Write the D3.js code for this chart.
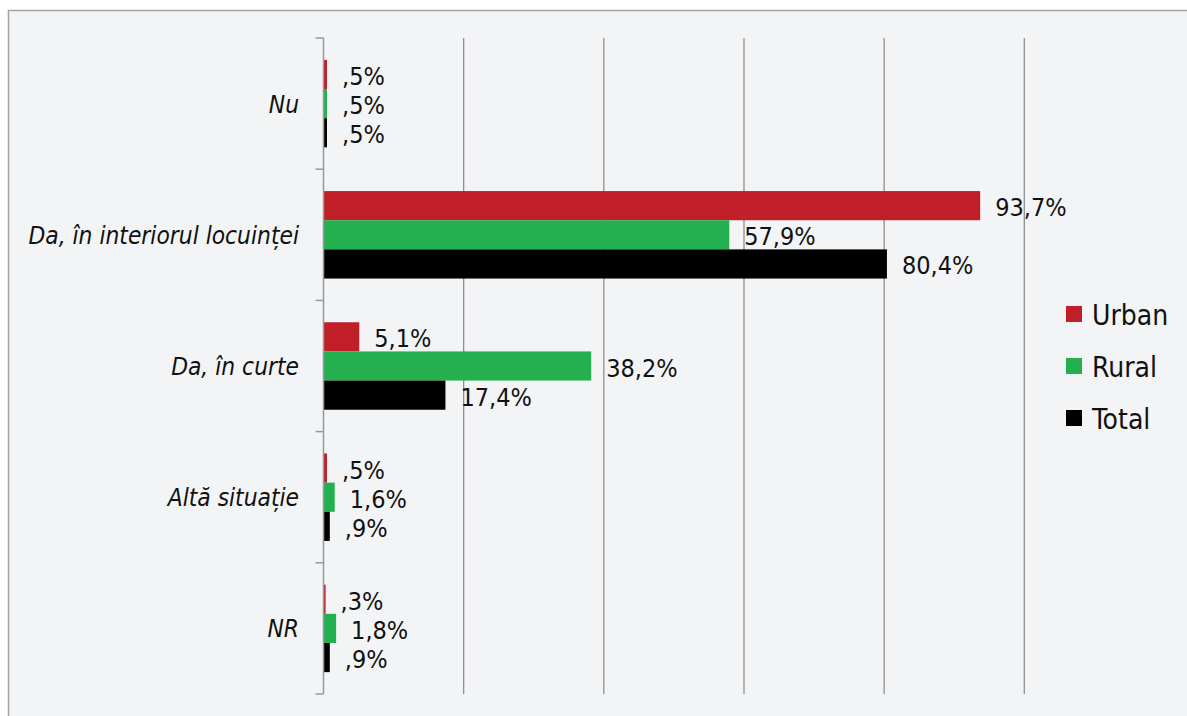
<!DOCTYPE html>
<html>
<head>
<meta charset="utf-8">
<script src="https://cdn.jsdelivr.net/npm/d3@7"></script>
<style>
  html, body { margin: 0; padding: 0; background: #ffffff; }
  svg { display: block; }
</style>
</head>
<body>
<svg id="chart" width="1187" height="716"></svg>
<script>
const categories = ["Nu", "Da, în interiorul locuinței", "Da, în curte", "Altă situație", "NR"];
const seriesNames = ["Urban", "Rural", "Total"];
const urbanValues = [0.5, 93.7, 5.1, 0.5, 0.3];
const ruralValues = [0.5, 57.9, 38.2, 1.6, 1.8];
const totalValues = [0.5, 80.4, 17.4, 0.9, 0.9];
const seriesColors = ["#C01F28", "#25B050", "#000000"];
const xTicks = [0, 20, 40, 60, 80, 100];

const seriesValues = [urbanValues, ruralValues, totalValues];
const rows = [];
categories.forEach((c, i) => {
  seriesNames.forEach((s, j) => rows.push({cat: c, series: s, value: seriesValues[j][i], color: seriesColors[j]}));
});

const svg = d3.select("#chart");
const FONT = "'DejaVu Sans Condensed', 'DejaVu Sans', sans-serif";

// frame
svg.append("rect").attr("x", 8.5).attr("y", 10.5).attr("width", 1200).attr("height", 720)
  .attr("fill", "#f3f4f6").attr("stroke", "#a3a3a3").attr("stroke-width", 1.5);

const x = d3.scaleLinear().domain([0, 100]).range([323.5, 1024.3]);
const y = d3.scaleBand().domain(categories).range([38, 694]).padding(0);
const yInner = d3.scaleBand().domain(seriesNames).range([0, y.bandwidth()]).paddingInner(0).paddingOuter(0.75);

// gridlines
svg.append("g").selectAll("line").data(xTicks.slice(1)).join("line")
  .attr("x1", d => x(d)).attr("x2", d => x(d))
  .attr("y1", 38).attr("y2", 694)
  .attr("stroke", "#8f8f8f").attr("stroke-width", 1.3);

// category boundary ticks
const gy = svg.append("g").attr("transform", `translate(${x(0)},0)`);
const boundaries = categories.map(c => y(c)).concat([y.range()[1]]);
gy.selectAll("line.bnd").data(boundaries).join("line").attr("class", "bnd")
  .attr("x1", -8).attr("x2", 0).attr("y1", d => d).attr("y2", d => d)
  .attr("stroke", "#999").attr("stroke-width", 1.5);

// bars
svg.append("g").selectAll("rect").data(rows).join("rect")
  .attr("x", x(0))
  .attr("y", d => y(d.cat) + yInner(d.series))
  .attr("width", d => x(d.value) - x(0))
  .attr("height", yInner.bandwidth())
  .attr("fill", d => d.color);

// axis line on top
svg.append("line").attr("x1", x(0)).attr("x2", x(0)).attr("y1", 38).attr("y2", 694)
  .attr("stroke", "#999").attr("stroke-width", 1.5);

// category labels
svg.append("g").selectAll("text").data(categories).join("text")
  .attr("x", 299).attr("y", d => y(d) + y.bandwidth() / 2 + 9)
  .attr("text-anchor", "end")
  .attr("font-family", FONT).attr("font-style", "italic").attr("font-size", 24.3)
  .attr("fill", "#111")
  .text(d => d);

// value labels
const fmt = v => v.toFixed(1).replace(".", ",").replace(/^0/, "") + "%";
svg.append("g").selectAll("text").data(rows).join("text")
  .attr("x", d => x(d.value) + 15)
  .attr("y", d => y(d.cat) + yInner(d.series) + yInner.bandwidth() / 2 + 10.5)
  .attr("font-family", FONT).attr("font-size", 25).attr("fill", "#111")
  .text(d => fmt(d.value));

// legend
const legend = svg.append("g").selectAll("g").data(seriesNames).join("g")
  .attr("transform", (d, i) => `translate(1066, ${306 + i * 52})`);
legend.append("rect").attr("width", 16).attr("height", 16).attr("fill", (d, i) => seriesColors[i]);
legend.append("text").attr("x", 26).attr("y", 19)
  .attr("font-family", FONT).attr("font-size", 28).attr("fill", "#111")
  .text(d => d);
</script>
</body>
</html>
